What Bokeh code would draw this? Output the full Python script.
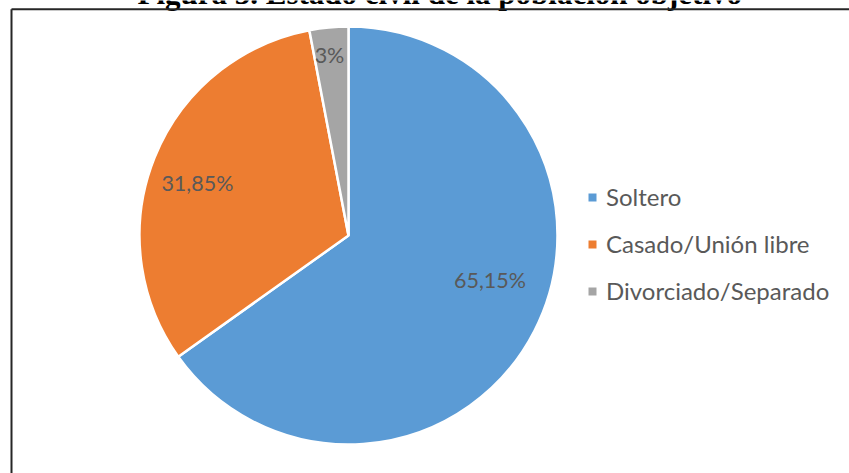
import math
from bokeh.plotting import figure
from bokeh.models import Range1d, ColumnDataSource, Legend, LegendItem
from bokeh.core.properties import value
from bokeh.embed import file_html
from bokeh.resources import INLINE

# ---- data ----
categories = ["Soltero", "Casado/Unión libre", "Divorciado/Separado"]
percentages = [65.15, 31.85, 3.0]
label_texts = ["65,15%", "31,85%", "3%"]
colors = ["#5B9BD5", "#ED7D31", "#A5A5A5"]
title_text = "Figura 3. Estado civil de la población objetivo"

# ---- style / layout ----
W, H = 849, 473
CX, CY = 348, H - 235
R = 209
label_radius_frac = [0.71, 0.765, 0.87]
label_angle_shift_deg = [9.7, 2.8, 0.6]
TXT = "#595959"
FONT = "Lato"

p = figure(width=W, height=H, x_range=Range1d(0, W), y_range=Range1d(0, H),
           x_axis_type=None, y_axis_type=None, output_backend="svg",
           toolbar_location=None, min_border=0,
           styles={"margin": "0px"})
p.grid.visible = False
p.outline_line_color = None
p.background_fill_color = "white"
p.border_fill_color = "white"

total = sum(percentages)
starts, ends, mids = [], [], []
cum = 0.0
for v in percentages:
    a0 = math.pi / 2 - 2 * math.pi * cum / total
    cum += v
    a1 = math.pi / 2 - 2 * math.pi * cum / total
    starts.append(a0)
    ends.append(a1)
    mids.append((a0 + a1) / 2)

src = ColumnDataSource(dict(x=[CX] * len(categories), y=[CY] * len(categories),
                            start=starts, end=ends, color=colors, cat=categories))
p.wedge(x="x", y="y", radius=R, radius_units="screen", start_angle="start",
        end_angle="end", direction="clock", fill_color="color",
        line_color="white", line_width=2.5, source=src)

lx, ly = [], []
for m, f, s in zip(mids, label_radius_frac, label_angle_shift_deg):
    a = m + math.radians(s)
    lx.append(CX + R * f * math.cos(a))
    ly.append(CY + R * f * math.sin(a))
p.text(x=lx, y=ly, text=label_texts, text_align="center", text_baseline="middle",
       text_font=value(FONT), text_font_size="21.5px", text_color=TXT)

# title (clipped at the top, as in the reference)
p.text(x=[137], y=[H + 7], text=[title_text], text_align="left",
       text_baseline="alphabetic", text_font=value("Liberation Serif"),
       text_font_style="bold", text_font_size="31px", text_color="black")

# frame lines
p.segment(x0=[11, 11], y0=[H - 8.7, H - 8.7], x1=[W, 11], y1=[H - 8.7, 0],
          line_color="#262626", line_width=2)

# legend swatches (off-canvas markers, shown only in the legend)
items = []
for cat, col in zip(categories, colors):
    r = p.rect(x=[-500], y=[-500], width=1, height=1, fill_color=col, line_color=None)
    items.append(LegendItem(label=cat, renderers=[r]))
legend = Legend(items=items, location=(587, H - 305), orientation="vertical",
                glyph_width=10, glyph_height=10, label_standoff=9,
                label_text_font=FONT, label_text_font_size="24px",
                label_text_color=TXT, label_height=28, spacing=18,
                padding=0, margin=0, border_line_alpha=0,
                background_fill_alpha=0)
p.add_layout(legend, "center")

open("out.html", "w").write(file_html(p, INLINE))
